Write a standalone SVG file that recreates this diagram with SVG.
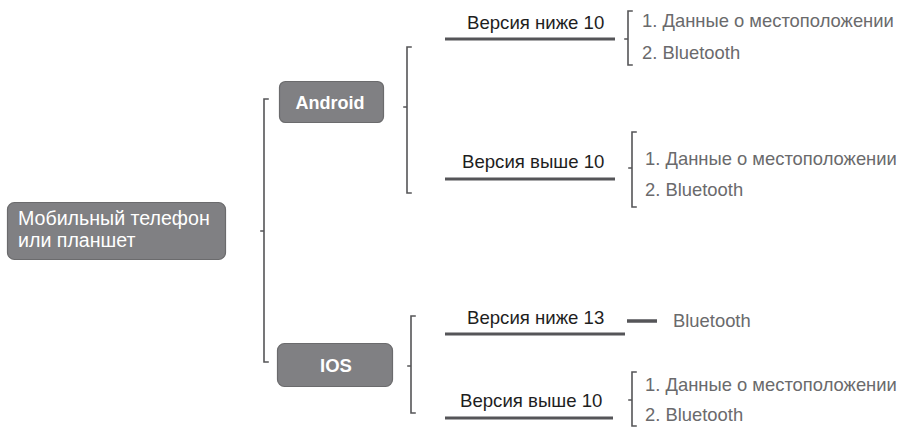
<svg xmlns="http://www.w3.org/2000/svg" width="910" height="428" viewBox="0 0 910 428">
<style>
.node{fill:#808083;stroke:#6b6b6d;stroke-width:1.2}
.ntxt{font-family:"Liberation Sans",Arial,sans-serif;fill:#ffffff}
.br{fill:none;stroke:#555558;stroke-width:1.6;stroke-linecap:square}
.ul{stroke:#555558;stroke-width:3}
.ver{font-family:"Liberation Sans",Arial,sans-serif;font-size:18.6px;fill:#1e1e1e}
.item{font-family:"Liberation Sans",Arial,sans-serif;font-size:18.4px;fill:#6a6a6c}
</style>
<rect width="910" height="428" fill="#ffffff"/>
<g id="root">
<rect class="node" x="7.5" y="202.5" width="218" height="57" rx="7"/>
<text class="ntxt" x="18" y="225" font-size="19.6">Мобильный телефон</text>
<text class="ntxt" x="18" y="247" font-size="19.6">или планшет</text>
</g>
<g id="android">
<rect class="node" x="279.5" y="81.5" width="104" height="41" rx="6"/>
<text class="ntxt" x="330" y="109" font-size="18" font-weight="bold" text-anchor="middle">Android</text>
</g>
<g id="ios">
<rect class="node" x="277.5" y="343.5" width="115" height="43" rx="7"/>
<text class="ntxt" x="336" y="372" font-size="18.5" font-weight="bold" text-anchor="middle">IOS</text>
</g>
<g id="a-low">
<text class="ver" x="467" y="29">Версия ниже 10</text>
<text class="item" x="642" y="27">1. Данные о местоположении</text>
<text class="item" x="642" y="59">2. Bluetooth</text>
</g>
<g id="a-high">
<text class="ver" x="462" y="168">Версия выше 10</text>
<text class="item" x="645" y="165">1. Данные о местоположении</text>
<text class="item" x="645" y="196">2. Bluetooth</text>
</g>
<g id="i-low">
<text class="ver" x="467" y="324">Версия ниже 13</text>
<text class="item" x="673" y="327">Bluetooth</text>
</g>
<g id="i-high">
<text class="ver" x="460" y="407">Версия выше 10</text>
<text class="item" x="645" y="391">1. Данные о местоположении</text>
<text class="item" x="645" y="421">2. Bluetooth</text>
</g>
<g id="connectors">
<path class="br" d="M268 99 H264 V362 H268 M264 231 H261"/>
<path class="br" d="M411 47 H407 V193 H411 M407 107 H404"/>
<path class="br" d="M415 316 H411 V413 H415 M411 366 H408"/>
<path class="br" d="M632 11 H628 V65 H632 M628 39 H625"/>
<path class="br" d="M636 132 H632 V207 H636 M632 168 H629"/>
<path class="br" d="M636 372 H632 V426 H636 M632 400 H629"/>
<line class="ul" x1="445" y1="39" x2="615" y2="39"/>
<line class="ul" x1="445" y1="179" x2="615" y2="179"/>
<line class="ul" x1="445" y1="334" x2="625" y2="334"/>
<line class="ul" x1="627" y1="321" x2="657" y2="321" style="stroke-width:3.5"/>
<line class="ul" x1="445" y1="418" x2="613" y2="418"/>
</g>
</svg>
